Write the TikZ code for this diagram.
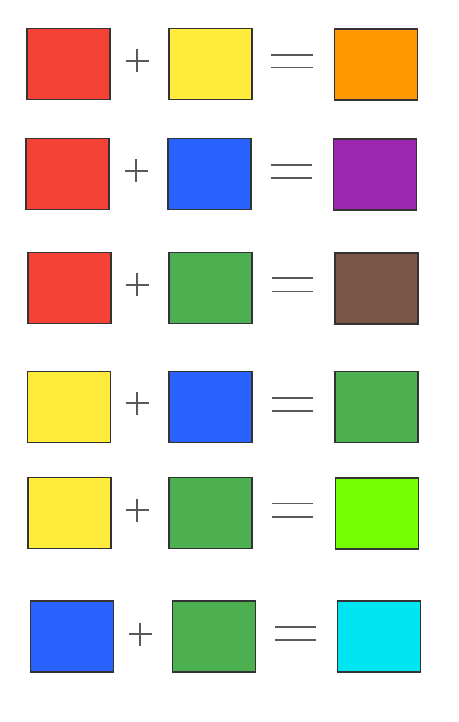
\documentclass[tikz,border=0pt]{standalone}
\usepackage{tikz}
\definecolor{mixred}{HTML}{F44336}
\definecolor{mixyellow}{HTML}{FFEB3B}
\definecolor{mixblue}{HTML}{2962FF}
\definecolor{mixgreen}{HTML}{4CAF50}
\definecolor{mixorange}{HTML}{FF9800}
\definecolor{mixpurple}{HTML}{9C27B0}
\definecolor{mixbrown}{HTML}{795548}
\definecolor{mixlime}{HTML}{76FF03}
\definecolor{mixcyan}{HTML}{00E5F2}
\tikzset{
  swatch/.style={rectangle, draw=black!80, line width=0.6pt, minimum width=1.66cm, minimum height=1.42cm, inner sep=0pt},
  plusbar/.style={line width=0.6pt, draw=black!65},
  eqbar/.style={line width=1pt, draw=black!65},
}

\begin{document}
\begin{tikzpicture}[x=0.02cm, y=-0.02cm]
\useasboundingbox (0,0) rectangle (458,722);
% red + yellow = orange
\node[swatch, fill=mixred] (r1a) at (68.5,64) {};
\node[swatch, fill=mixyellow] (r1b) at (210.5,64) {};
\node[swatch, fill=mixorange] (r1c) at (376,64.5) {};
\draw[plusbar] (125.5,61) -- (148.5,61) (137,49.5) -- (137,72.5);
\draw[eqbar] (271,55) -- (313,55) (271,67.5) -- (313,67.5);
% red + blue = purple
\node[swatch, fill=mixred] (r2a) at (67.5,174) {};
\node[swatch, fill=mixblue] (r2b) at (209.5,174) {};
\node[swatch, fill=mixpurple] (r2c) at (375,174.5) {};
\draw[plusbar] (124.5,171) -- (147.5,171) (136,159.5) -- (136,182.5);
\draw[eqbar] (271,165) -- (312,165) (271,178) -- (312,178);
% red + green = brown
\node[swatch, fill=mixred] (r3a) at (69.5,288) {};
\node[swatch, fill=mixgreen] (r3b) at (210.5,288) {};
\node[swatch, fill=mixbrown] (r3c) at (376.5,288.5) {};
\draw[plusbar] (125.5,285) -- (148.5,285) (137,273.5) -- (137,296.5);
\draw[eqbar] (272,278) -- (313,278) (272,291.5) -- (313,291.5);
% yellow + blue = green
\node[swatch, fill=mixyellow] (r4a) at (69,407) {};
\node[swatch, fill=mixblue] (r4b) at (210.5,407) {};
\node[swatch, fill=mixgreen] (r4c) at (376.5,407) {};
\draw[plusbar] (125.5,403) -- (148.5,403) (137,391.5) -- (137,414.5);
\draw[eqbar] (272,398) -- (313,398) (272,411) -- (313,411);
% yellow + green = lime
\node[swatch, fill=mixyellow] (r5a) at (69.5,513) {};
\node[swatch, fill=mixgreen] (r5b) at (210.5,513) {};
\node[swatch, fill=mixlime] (r5c) at (377,513.5) {};
\draw[plusbar] (125.5,510) -- (148.5,510) (137,498.5) -- (137,521.5);
\draw[eqbar] (272,503.5) -- (313,503.5) (272,517) -- (313,517);
% blue + green = cyan
\node[swatch, fill=mixblue] (r6a) at (72,636.5) {};
\node[swatch, fill=mixgreen] (r6b) at (214,636.5) {};
\node[swatch, fill=mixcyan] (r6c) at (379,636.5) {};
\draw[plusbar] (128.5,634) -- (151.5,634) (140,622.5) -- (140,645.5);
\draw[eqbar] (275,627) -- (316,627) (275,640) -- (316,640);
\end{tikzpicture}
\end{document}
